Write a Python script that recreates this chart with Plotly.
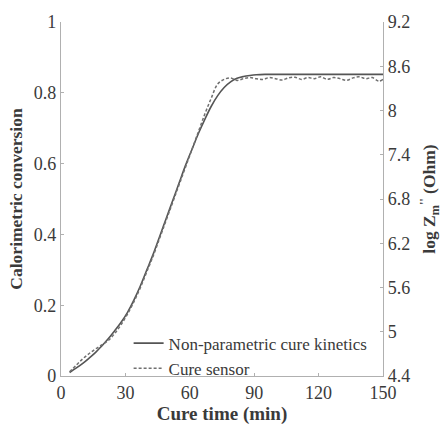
import plotly.graph_objects as go

# Non-parametric cure kinetics (calorimetric conversion, left axis)
time_model = [4, 7, 10, 13, 16, 19, 22, 25, 28, 31, 34, 37, 40, 43, 46, 49, 52, 55, 58, 61,
              64, 67, 70, 73, 76, 79, 82, 85, 88, 91, 95, 100, 110, 120, 130, 140, 150]
conv_model = [0.010, 0.022, 0.035, 0.050, 0.066, 0.085, 0.105, 0.128, 0.152, 0.180, 0.215,
              0.255, 0.300, 0.345, 0.395, 0.445, 0.495, 0.545, 0.595, 0.640, 0.685, 0.725,
              0.762, 0.792, 0.815, 0.831, 0.841, 0.846, 0.849, 0.851, 0.852, 0.852, 0.852,
              0.852, 0.852, 0.852, 0.852]

# Cure sensor (log Z''_m, right axis)
time_sensor = [4, 7, 10, 13, 16, 19, 22, 25, 28, 31, 34, 37, 40, 43, 46, 49, 52, 55, 58, 61,
               64, 67, 70, 73, 76, 79, 82, 85, 88, 91, 94, 97, 100, 103, 106, 109, 112, 115,
               118, 121, 124, 127, 130, 133, 136, 139, 142, 145, 148, 150]
logz_sensor = [4.458, 4.544, 4.630, 4.702, 4.765, 4.822, 4.880, 4.976, 5.096, 5.240, 5.408,
               5.600, 5.816, 6.032, 6.272, 6.512, 6.752, 6.992, 7.232, 7.472, 7.712, 7.952,
               8.168, 8.360, 8.422, 8.442, 8.408, 8.432, 8.446, 8.432, 8.422, 8.446, 8.432,
               8.413, 8.442, 8.451, 8.422, 8.446, 8.432, 8.456, 8.422, 8.446, 8.432, 8.408,
               8.442, 8.456, 8.432, 8.446, 8.398, 8.422]

x_ticks = [0, 30, 60, 90, 120, 150]
y_ticks = [0, 0.2, 0.4, 0.6, 0.8, 1]
y_tick_text = ["0", "0.2", "0.4", "0.6", "0.8", "1"]
y2_ticks = [4.4, 5.0, 5.6, 6.2, 6.8, 7.4, 8.0, 8.6, 9.2]
y2_tick_text = ["4.4", "5", "5.6", "6.2", "6.8", "7.4", "8", "8.6", "9.2"]

FONT = "Liberation Serif"
TXT = "#3a3a3a"
AX = "#b0b0b0"

fig = go.Figure()
fig.add_trace(go.Scatter(x=time_model, y=conv_model, mode="lines",
                         name="Non-parametric cure kinetics",
                         line=dict(color="#555555", width=1.6, shape="spline")))
fig.add_trace(go.Scatter(x=time_sensor, y=logz_sensor, mode="lines", yaxis="y2",
                         name="Cure sensor",
                         line=dict(color="#707070", width=1.5, dash="3px,2px", shape="spline")))

fig.update_layout(
    width=447, height=428,
    margin=dict(l=61, r=61, t=16, b=48),
    paper_bgcolor="white", plot_bgcolor="white",
    font=dict(family=FONT, color=TXT, size=18),
    showlegend=True,
    legend=dict(x=0.21, y=-0.03, xanchor="left", yanchor="bottom",
                bgcolor="rgba(0,0,0,0)", font=dict(size=17, family=FONT, color=TXT),
                tracegroupgap=0, itemwidth=30),
    xaxis=dict(range=[0, 150], tickvals=x_ticks, showline=True, linecolor=AX, linewidth=1.2,
               ticks="inside", ticklen=3, tickcolor=AX, showgrid=False, zeroline=False,
               title=dict(text="<b>Cure time (min)</b>", font=dict(size=19), standoff=0),
               tickfont=dict(size=18)),
    yaxis=dict(range=[0, 1], tickvals=y_ticks, ticktext=y_tick_text, showline=True,
               linecolor=AX, linewidth=1.2, ticks="inside", ticklen=3, tickcolor=AX,
               showgrid=False, zeroline=False,
               title=dict(text="<b>Calorimetric conversion</b>", font=dict(size=17.5), standoff=6),
               tickfont=dict(size=18)),
    yaxis2=dict(range=[4.4, 9.2], tickvals=y2_ticks, ticktext=y2_tick_text, overlaying="y",
                side="right", showline=True, linecolor=AX, linewidth=1.2, ticks="inside",
                ticklen=3, tickcolor=AX, showgrid=False, zeroline=False,
                title=dict(text="<b>log Z<sub>m</sub><sup>''</sup> (Ohm)</b>", font=dict(size=17.5),
                           standoff=13),
                tickfont=dict(size=18)),
)

fig.write_html("out.html")
